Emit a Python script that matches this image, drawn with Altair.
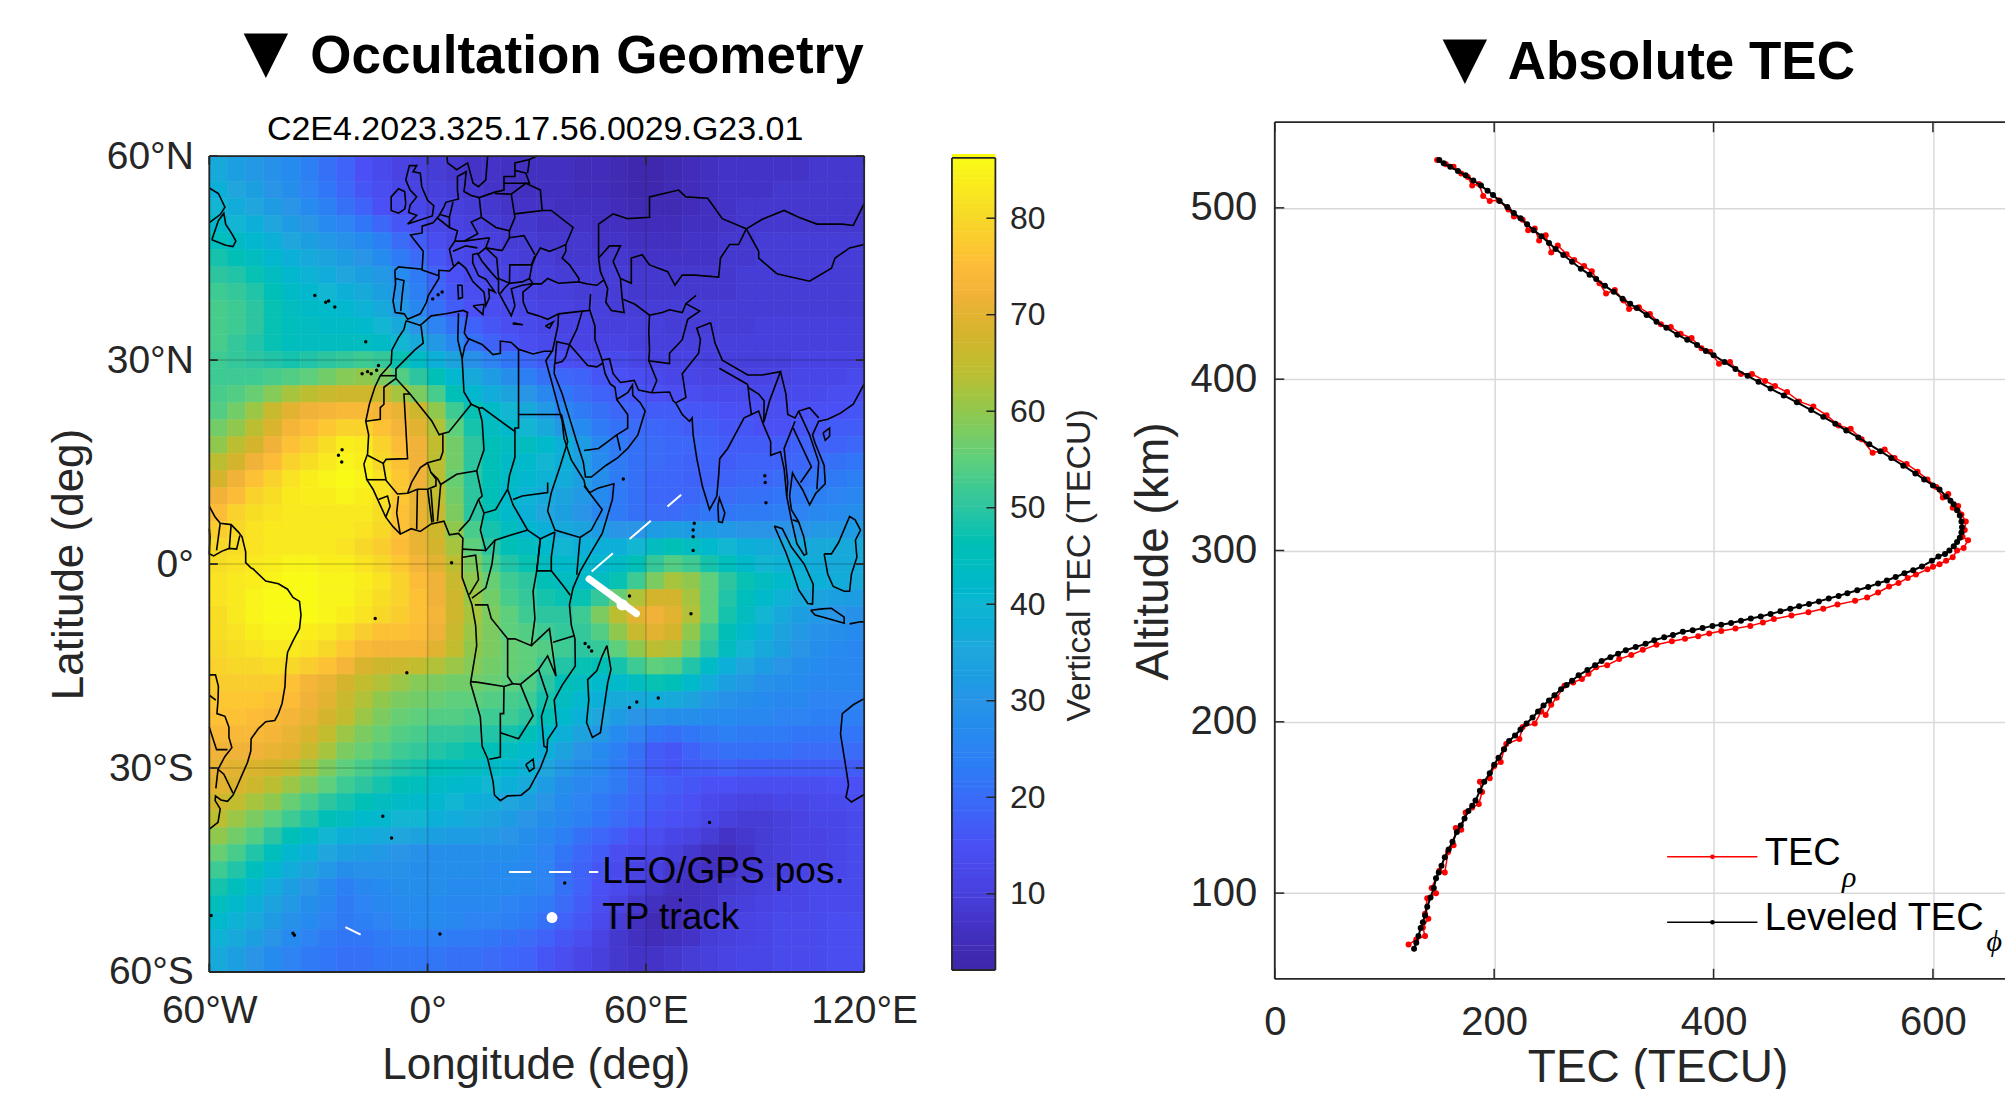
import altair as alt
import pandas as pd

INK = "#262626"
FONT = "Liberation Sans"

# ---------- vertical TEC map, values read per 5 deg lon x 2.5 deg lat ----------
cell_lons = [-60 + 5 * i for i in range(36)]
lat_edges = [60] + [56.25 - 2.5 * i for i in range(46)] + [-60]
VTEC = [
 [36,33,31,29,27,24,21,18,15,13,11,10,9,8,7,7,6,6,6,6,5,5,4,3,3,4,5,6,7,7,7,7,7,8,8,8],
 [38,35,33,30,28,25,22,19,16,14,12,11,10,9,8,7,6,6,6,6,5,5,4,3,3,4,5,6,7,7,7,8,8,8,8,8],
 [40,37,35,32,30,27,24,21,18,15,13,12,11,10,9,8,7,7,7,6,6,6,5,4,4,4,5,6,7,8,8,8,8,8,8,8],
 [42,40,38,35,32,30,27,25,22,19,16,14,12,11,10,9,8,8,7,7,7,6,6,5,5,5,6,6,7,8,8,8,8,8,8,8],
 [45,43,41,38,35,33,31,29,27,24,20,17,14,12,11,10,9,9,8,8,8,7,7,6,6,6,7,7,8,8,9,9,9,9,9,9],
 [48,46,44,41,38,36,34,32,30,27,23,20,16,13,12,11,10,9,9,8,8,8,8,7,7,7,7,7,8,8,9,9,9,9,9,9],
 [50,49,47,44,41,39,37,35,33,31,27,23,18,15,13,12,11,10,10,9,9,9,9,8,8,8,8,8,8,9,9,9,9,9,9,9],
 [52,51,49,46,43,41,40,38,36,33,29,24,19,16,14,13,12,11,10,10,9,9,9,8,8,8,8,8,8,9,9,9,9,9,9,9],
 [53,52,50,47,44,43,42,41,39,36,31,26,21,17,15,14,13,12,11,11,10,10,9,9,9,9,9,9,9,9,9,9,9,9,9,9],
 [53,52,50,47,45,44,43,43,42,40,36,30,25,21,18,16,14,13,12,11,11,10,10,10,10,9,9,9,9,9,10,10,10,10,10,10],
 [53,51,49,47,45,44,44,44,44,43,40,36,31,26,21,18,16,14,13,12,11,11,11,10,10,10,10,10,10,10,10,10,10,10,10,10],
 [52,51,50,49,48,49,50,51,52,51,47,43,38,34,29,25,22,19,17,15,14,13,13,12,11,11,11,10,10,10,10,10,11,11,11,11],
 [52,52,52,53,54,55,57,59,60,58,54,50,46,41,36,32,28,24,21,19,18,16,15,14,13,12,12,11,11,11,11,11,12,12,12,13],
 [53,54,56,59,62,64,66,67,67,66,62,58,53,46,41,37,34,30,26,22,20,18,17,16,15,14,14,13,13,13,13,13,13,13,14,14],
 [54,57,61,66,70,72,73,74,74,73,71,67,60,52,47,43,40,36,31,26,23,21,19,18,17,17,16,16,15,15,14,14,15,15,15,16],
 [57,60,64,69,73,75,77,79,79,76,73,70,63,55,48,44,42,40,36,31,27,23,21,20,19,18,17,17,16,16,15,15,16,16,17,17],
 [60,64,68,72,76,78,81,84,83,79,75,72,65,57,50,46,44,44,42,38,32,26,23,21,20,19,19,18,17,17,17,17,18,18,18,19],
 [64,68,72,75,79,81,83,85,84,80,76,72,64,57,50,46,43,42,40,38,33,27,23,21,20,19,18,18,17,18,18,18,19,20,21,22],
 [68,72,76,79,82,84,85,86,85,82,77,72,64,56,50,46,43,41,39,37,33,28,23,21,19,19,18,18,18,19,19,20,21,22,23,24],
 [72,75,79,81,83,84,84,85,84,82,77,71,65,57,50,46,42,39,36,34,31,27,23,21,19,19,19,20,20,21,21,22,23,24,25,26],
 [75,79,81,82,83,83,83,83,83,81,76,71,66,58,50,46,42,38,35,33,30,26,23,21,20,20,21,22,22,23,23,24,25,26,27,28],
 [78,80,82,83,83,83,83,83,82,80,76,71,67,60,53,48,44,41,38,36,34,32,30,30,32,33,32,32,31,30,30,30,30,31,31,32],
 [80,81,82,83,83,83,83,82,80,78,75,71,68,62,55,50,46,44,42,40,38,38,38,40,44,46,44,42,40,38,37,36,36,36,36,36],
 [81,82,83,84,85,85,84,84,82,80,77,73,70,64,58,53,49,47,44,42,41,41,43,46,51,54,52,48,45,42,40,39,38,37,36,36],
 [82,83,84,85,86,86,85,85,84,82,79,75,72,66,60,56,52,50,46,44,43,44,47,52,58,62,60,55,50,47,44,42,39,38,37,36],
 [82,83,85,86,86,86,85,85,83,81,79,76,72,67,61,57,53,51,48,47,47,51,56,63,68,68,62,55,49,45,42,39,36,34,33,32],
 [81,83,85,86,86,86,85,84,82,80,78,76,73,67,62,58,55,52,50,50,52,58,64,70,72,70,63,55,48,44,40,36,33,31,30,29],
 [81,82,84,85,85,84,83,81,78,76,76,75,72,66,61,58,55,54,52,51,51,54,60,66,70,68,60,52,46,42,38,34,31,29,28,27],
 [80,81,82,83,83,82,80,77,74,73,73,73,70,65,60,58,56,55,54,52,50,51,55,60,64,63,57,50,44,40,36,33,30,28,27,26],
 [79,80,80,81,80,78,76,73,69,67,66,65,63,61,59,57,56,55,52,49,47,46,48,52,55,54,49,43,38,35,32,30,28,27,26,26],
 [78,78,78,78,76,73,71,68,65,63,61,59,58,57,57,56,55,54,50,46,44,42,42,44,47,46,42,37,33,31,29,28,27,26,26,26],
 [77,77,77,76,75,72,70,66,63,60,58,57,56,55,55,54,53,52,48,44,41,38,36,36,37,36,34,31,29,28,27,26,26,25,25,25],
 [76,76,75,74,73,71,68,65,61,58,56,55,54,54,53,52,52,50,46,42,38,35,32,30,29,28,28,27,27,26,26,25,25,24,24,24],
 [74,74,74,73,71,69,65,61,58,56,54,53,51,51,50,49,48,46,42,38,34,31,27,25,22,21,22,23,24,23,23,23,22,22,22,22],
 [72,72,72,71,70,66,62,58,56,54,52,51,49,48,47,46,44,42,38,34,30,27,24,21,17,16,18,20,21,21,21,21,20,20,20,20],
 [71,70,69,68,66,62,58,55,53,51,49,48,46,45,44,43,41,39,35,31,28,26,23,20,17,16,17,17,18,17,17,17,17,17,17,17],
 [70,69,67,64,61,58,55,52,50,48,46,45,43,42,41,40,38,36,32,28,26,25,23,20,18,17,16,15,15,14,14,14,14,14,15,15],
 [67,65,62,60,56,53,50,48,46,44,43,42,41,40,38,37,35,33,30,27,25,23,21,19,17,16,15,13,12,11,11,12,12,13,13,14],
 [64,61,58,55,52,49,46,44,42,41,40,40,38,37,36,34,32,30,28,26,24,22,20,18,16,15,14,12,10,9,9,10,11,12,12,13],
 [60,57,54,50,46,43,40,38,37,36,35,34,33,32,32,31,30,28,26,24,21,19,17,15,14,12,11,9,7,8,9,10,11,11,12,13],
 [56,53,49,45,41,38,35,33,32,31,30,29,28,28,28,28,28,27,25,22,19,17,14,13,12,10,8,6,5,7,9,10,11,11,12,13],
 [52,49,45,41,37,34,31,28,29,29,29,28,28,28,28,27,27,26,25,21,18,16,13,11,10,8,7,6,6,8,9,10,11,12,12,13],
 [48,45,41,37,33,30,27,24,26,27,28,28,28,27,27,27,27,26,25,21,18,15,13,10,8,6,6,7,8,9,10,11,12,13,13,13],
 [45,42,38,34,31,28,26,23,25,26,27,27,27,26,26,26,25,24,23,20,17,14,11,8,6,5,6,7,9,10,11,12,12,13,13,13],
 [42,39,36,32,29,27,25,23,24,25,26,27,27,26,25,25,24,23,21,18,16,13,9,6,4,5,6,8,10,11,12,13,13,13,14,14],
 [39,36,33,30,27,25,23,22,22,23,24,24,24,23,23,22,21,20,18,16,14,11,8,6,5,6,7,9,10,11,12,13,13,13,14,14],
 [36,33,30,27,25,23,22,21,21,22,22,22,22,21,21,20,19,18,16,14,12,10,8,7,7,8,9,10,11,12,12,13,13,13,14,14],
]
assert len(VTEC) == len(lat_edges) - 1
for _r in VTEC:
    assert len(_r) == 36, _r
cb_stops = [2.1,6,10,15,20,25,30,35,40,44,50,55,60,64,68,72,75,80,86.25]
cb_colors = ["#3e26a8","#4230c0","#4740dd","#4a50f5","#3a6cf8","#2d84f2","#2a94e6","#20a6dc","#12b5d2",
             "#02bcc0","#2cc5a0","#5ecf7c","#90c84e","#bcbe32","#d4b42c","#f0b238","#fdbc38","#f7d828","#f9fb15"]

# ---------- coastlines and borders (lon, lat) ----------
coast_south_america = [(-60,8.5),(-58.5,7),(-57,6),(-54,5.8),(-52,4.7),(-51,4),(-50,1.8),(-50,0.2),(-48.5,-0.6),(-48,-0.7),(-44.5,-2.5),(-41,-2.9),(-38.5,-3.7),(-37,-4.9),(-35.2,-5.5),(-34.8,-7.5),(-35.2,-9.5),(-37,-11.3),(-38.5,-13),(-39,-15.5),(-39.2,-18),(-40,-20.5),(-41,-22),(-42,-23),(-44.5,-23.2),(-46.5,-24.2),(-48.5,-25.7),(-48.6,-27.5),(-49.5,-29.2),(-51,-31),(-52.2,-32.5),(-53.5,-34),(-55,-34.9),(-56.8,-34.7),(-58.3,-34.1),(-58.4,-34.8),(-57,-36),(-57.6,-38),(-60,-39)]
coast_africa = [(-5.9,35.8),(-2,35.1),(1,36.5),(5,36.8),(9.8,37.3),(11,37),(10.1,34),(11,33.2),(15,32.3),(18,30.8),(20,31),(20,32.8),(23,32.6),(25,31.6),(29,30.9),(32,31.3),(34.2,31.3),(32.5,29.9),(34,27),(35.5,24),(37,21),(37.5,18.5),(39.5,15.3),(43,12.3),(43.3,11.5),(44.5,10.5),(47,11.2),(51.2,11.8),(50.8,9.5),(48,4.5),(45,1.8),(42,-1),(40,-3.5),(39,-6),(39.5,-9),(40.5,-11),(40.6,-15),(37,-17.8),(34.8,-20),(35.5,-23.8),(33,-25.8),(32.8,-27.5),(31,-30),(28,-33),(25.7,-34),(22,-34.1),(20,-34.8),(18.4,-34),(18,-32),(16.5,-28.6),(15,-26.8),(14.5,-22.5),(11.8,-17.5),(13.5,-12),(13.2,-9),(12.2,-6),(9.5,-2),(9.5,1),(9.7,3.8),(8.5,4.5),(6,4.3),(4.5,6.3),(1,5.9),(-2,4.8),(-4.5,5.2),(-7.5,4.4),(-9.5,5.5),(-11.5,6.9),(-13.3,9),(-15,11),(-16.7,12.4),(-17.5,14.7),(-16.5,16.2),(-16.2,19),(-17,21),(-16,23.5),(-14.5,26),(-13,27.7),(-10,29.5),(-9.8,31.5),(-8,33.3),(-6.5,34.5),(-5.9,35.8)]
coast_madagascar = [(49.3,-12),(50.4,-15.5),(49.5,-17.5),(47.5,-24.8),(45.3,-25.5),(43.7,-23.3),(44.3,-20),(44,-17),(46.5,-15.7),(48,-13.5),(49.3,-12)]
coast_eurasia_north = [(-9,43.2),(-8,43.7),(-2,43.4),(-1.5,43.4),(-1.2,46),(-4.7,48.4),(-1.5,48.7),(-1.5,49.7),(1.5,50.2),(3,51.1),(4.5,52.5),(5,53.2),(8.5,53.7),(8.2,55),(8.2,57),(10.6,57.7),(10.3,56),(10,54.8),(12,54.2),(14.2,53.9),(18.5,54.7),(21,55),(21,57),(24,57),(24,59),(28,59.5),(30,60)]
coast_mediterranean = [(-9,43.2),(-8.8,41.2),(-9.5,38.7),(-8.9,37),(-6.4,36.8),(-5.5,36),(-2,36.8),(-0.3,38.5),(0.2,39.5),(3.1,42),(3.1,43.2),(6,43.1),(8.5,44.4),(10.5,43.5),(12.5,41.5),(15.5,40),(16,38),(17,39.2),(16.8,40.4),(18.5,40),(16,41.9),(14,42.4),(12.4,44.3),(12.4,45.5),(13.7,45.7),(15,44.5),(17.5,42.9),(19.5,41.7),(19.5,40),(21,38.5),(23,36.5),(24,38),(23,40.5),(26,41),(28.5,41.2),(29,41.2),(28,42),(28.7,44),(29.7,45.3),(31,46.5),(33.5,46),(36,46.5),(38,47),(38,46),(37,45),(39,44),(41.6,42),(41.5,41.5),(36,41.3),(33,42),(31.3,41.2),(29,41.2),(26.2,40),(26.3,38.5),(27.5,37),(30.5,36.5),(33,36),(36,36.8),(35.8,35),(35,33),(34.3,31.3)]
coast_britain = [(-5.5,50),(1.3,51.2),(1.7,52.7),(0,53.5),(-1.6,55.5),(-2,57.5),(-4,57.7),(-3,58.6),(-5,58.6),(-6,56.5),(-4.8,55),(-3,54),(-4.8,52.8),(-5.2,51.7),(-3,51.3),(-5.5,50)]
coast_ireland = [(-6,53),(-6.3,54.8),(-8,55.2),(-10,54),(-10,52),(-8,51.6),(-6.3,52.2),(-6,53)]
coast_sardinia = [(9.5,41),(9.6,39.2),(8.5,39),(8.3,41),(9.5,41)]
coast_sicily = [(12.5,38),(15.5,38.2),(15.2,36.7),(12.5,38)]
coast_crete = [(23.6,35.5),(26.2,35.2),(23.6,35.3),(23.6,35.5)]
coast_cyprus = [(32.4,35),(34.5,35.6),(33.5,34.7),(32.4,35)]
coast_scandinavia = [(5.3,60),(5.5,59),(8,58),(11,59),(12.5,56),(14,55.5),(16,56.5),(16.5,60)]
coast_newfoundland = [(-59.3,47.7),(-57.5,50.5),(-56,51.6),(-55.5,50),(-53.7,48.5),(-52.7,47.5),(-53.5,46.7),(-55.5,46.9),(-59.3,47.7)]
coast_labrador = [(-60,55.3),(-57.5,54.5),(-55.7,52.5),(-57,51.4),(-60,50.2)]
coast_caspian = [(47,45),(50,46.8),(53,46.8),(51,44.5),(53,42),(53.5,39),(54,37),(50.5,37.3),(49,38.5),(49.5,40.5),(47.5,43),(47,45)]
coast_south_asia = [(34.9,29.5),(34.8,28),(37,25),(39,21.5),(41,18),(42.8,15),(43.4,12.8),(45,12.8),(49,14.5),(52.2,15.6),(55,17),(57.8,19),(59.8,22.5),(58.5,23.7),(56.4,24.8),(56.3,26.3),(55,25.2),(52,24.2),(51.5,26),(50.2,26.5),(48.8,28),(48,30),(50,30.2),(51,28),(53,26.7),(56.8,27),(58,25.6),(61.6,25.2),(66.5,25.3),(67.5,24),(68.2,23.7),(70,22),(72,21),(72.7,21.5),(73,19),(74,15.5),(75.5,11.5),(77.5,8),(79.5,10),(80,13),(80.3,15.5),(82.5,17),(85,19.5),(87,21.5),(89,22),(91,22.5),(92.3,20.5),(94.3,18),(94.3,16),(97,16.5),(98,14),(98.7,10),(100,6.5),(101.5,3),(103.5,1.3),(104.2,1.5),(103.4,4),(102,6.2),(100,8),(99.5,10),(100.3,13.4),(101,12.7),(103,11),(105,8.7),(106.7,10.4),(109.3,11.8),(109,14.5),(106.5,17.8),(105.8,19),(107.5,21),(110,21.3),(113.5,22.2),(117,23.5),(120,26.5)]
coast_sri_lanka = [(79.8,8.5),(80.2,9.7),(81.7,7.5),(81,6.1),(80,6.2),(79.8,8.5)]
coast_hainan = [(108.7,19.3),(110.5,20),(110.5,18.8),(109.3,18.2),(108.7,19.3)]
coast_sumatra = [(95.3,5.6),(97.5,5.2),(100,2.5),(103.5,0),(106,-3),(105.8,-5.9),(104.5,-5.8),(102,-3.8),(100.3,-1),(98.5,1.7),(95.3,5.6)]
coast_java = [(105.3,-6.8),(108.5,-6.6),(111,-6.5),(114.5,-7.8),(114.5,-8.7),(110,-8),(106.5,-7.5),(105.3,-6.8)]
coast_borneo = [(109,1.5),(111,1.5),(113,3.2),(116,7),(117.5,6.5),(119,5),(117.6,3.5),(118,1),(116.5,-1.5),(116,-4),(114.5,-4),(111.5,-3.3),(110,-1.5),(109,1.5)]
coast_sundas = [(116,-8.8),(119,-8.5),(120,-8.5)]
coast_australia = [(120,-19.8),(117,-20.7),(114,-22),(113.5,-25),(115,-30),(115.7,-32.5),(115,-34.3),(116.5,-35),(120,-33.9)]

borders = [
 [(-60,5.2),(-59.8,4),(-60,1.5),(-58.8,1.2),(-56.5,1.9),(-54.5,2.3),(-52.5,2.2),(-51.6,4.2)],
 [(-57,6),(-58,2)],[(-54,5.8),(-54.5,2.3)],
 [(-60,-16.3),(-58.3,-16.3),(-57.5,-18),(-57.6,-20),(-57.9,-22),(-55.7,-22.4),(-54.6,-24),(-54.6,-25.5),(-53.8,-27),(-55.7,-28.3),(-57.6,-30.2),(-56,-30.9),(-53.5,-33.7)],
 [(-60,-24),(-58,-27.3),(-55,-27.3)],[(-60,-19.3),(-58.2,-20)],[(-58.2,-33),(-57.6,-30.2)],
 [(-1.8,35),(-1.2,32.5),(-3.5,31.5),(-8.7,28.7),(-8.7,27.3),(-4.8,25),(1.2,21),(3.2,19),(4.2,19.2),(5.8,19.4),(12,23.5),(14,23),(15,21),(15.5,16.8),(13.5,13.7),(8,13.2),(3.6,11.7),(2.8,12.5),(0.9,13.5),(0,14.9),(3.5,15.4),(4.2,16.5),(4.2,19.2)],
 [(-13,27.7),(-8.7,27.7)],[(-17,21),(-13,21.3),(-13,23),(-12,23.5),(-12,26),(-8.7,27.3)],
 [(-4.8,25),(-6.5,25),(-5.5,15.5),(-11.4,15.4),(-12.2,14.8),(-11.4,12.3),(-8.3,10.3),(-5.5,10.4),(-4.4,12),(-2,14.2),(0,14.9)],
 [(-16.5,16),(-12.2,14.8)],[(-16.7,12.4),(-11.4,12.4)],
 [(8.5,36.9),(8.3,33),(9.5,30.2),(10,25.3),(12,23.5)],[(11.5,33.2),(10.2,32),(9.5,30.2)],
 [(14,22.9),(15,23),(24,19.5),(24,20),(25,20),(25,22),(25,31.6)],[(25,22),(36.8,22)],
 [(24,19.5),(24,15.7),(22.5,13),(22,11),(18.7,8),(15.5,7.5),(14.5,5),(16,2),(18.5,3.5),(22.5,4.2),(27.5,5),(23.5,8.7),(22,11)],
 [(13.5,13.7),(15,10),(14,9.5),(11.5,6.5),(8.6,4.8)],[(14,9.5),(15.5,7.5)],
 [(2.7,6.3),(3.6,11.7)],[(1.6,6.2),(0.9,11)],[(1.2,6.1),(0,11)],[(-3,5.1),(-2.8,11)],
 [(-5.5,10.4),(-2.8,11),(0,11),(2.3,11.5),(2.3,12.5),(0.9,13.5)],
 [(-7.5,4.4),(-8.5,7.5),(-8,10)],[(-13.5,9.5),(-11,10),(-10.3,8.5),(-11.5,6.9)],
 [(9.7,2.2),(16,2)],[(9.7,1),(13.2,1.3),(14,-2.3),(11.5,-4.5)],[(12.2,-5),(16,-3.5),(17.7,0),(18.5,3.5)],
 [(23.5,9.5),(26,10),(33,10.5),(33,12)],
 [(36.8,22),(38.5,18),(36.5,14.5),(34,10.5),(33,7.8),(35,5),(41.9,3.9),(41,-1.6)],[(41.9,3.9),(45,5),(48,8),(43,11.5)],
 [(35,4.7),(34,1),(34,-1),(30,-1),(31,3.7),(35,4.7)],[(34,-1),(37.7,-3.5),(39.2,-4.6)],
 [(27.5,5),(31,3.7),(30,-1),(29,-4),(29.5,-8),(28.5,-12),(24,-11),(22,-11),(22,-13),(22,-16.5),(23.4,-17.6),(21,-18),(14,-17.4),(11.8,-17.3)],
 [(13,-6),(16.5,-6),(17.5,-8),(22,-11)],
 [(28.5,-12),(33.5,-9.5),(35.3,-16.5),(33,-13.5),(30.5,-15.5),(25.5,-17.7),(23.4,-17.6)],[(34.5,-11.5),(40.5,-10.5)],
 [(30.5,-15.5),(33,-19.5),(31.3,-22.4),(32,-26.8),(32.8,-27)],
 [(21,-18),(20.9,-22),(20,-22),(20,-28.4),(17,-28.7)],[(20,-24.8),(25,-25.7),(29,-22.3),(25.5,-17.7)],
 [(27,-29.5),(29,-28.7),(29.3,-30),(28,-30.5),(27,-29.5)],
 [(-8.8,42),(-6.5,41.7),(-7,39.5),(-7.4,37.2)],[(-1.7,43.3),(3.1,42.4)],
 [(2.5,51),(6,49.5),(8.2,49),(7.5,47.5),(6,46.3),(7,44),(7.5,43.8)],
 [(14.2,53.9),(14.8,51),(12,50.3),(13.8,48.6),(10,47.5),(7.5,47.5)],[(3.4,51.4),(6,51),(7,53.3)],[(6,51),(6,49.5)],
 [(7,46),(10.5,46.8),(13.7,46.5)],[(10,47.5),(17,48)],
 [(18.5,54.5),(23,54.4),(24,51),(22.5,49),(18.8,49.5),(14.8,51)],[(23,54.4),(27,56),(31,55),(31.5,52),(24,51.5)],
 [(22.5,49),(22.5,48),(26.5,48.3),(29.5,45.5)],[(31.5,52),(34,52),(40,49.5),(38,47)],
 [(20.5,46.1),(22.5,48)],[(29.5,45.3),(28.5,44),(22.6,44),(22.5,41.3),(26,41.5),(28,42)],[(17,48),(16,46.5),(20.5,46.1)],
 [(13.7,45.5),(16,46.5),(19,45),(19.5,42),(22.5,41.3),(21,40.5),(20,39.8)],[(21,56),(28,56),(27,57.5),(24,57.9)],[(27.5,57.5),(28,59.5)],
 [(47,45),(47,48),(47,50),(51,51.5),(55,50.8),(61,51),(61,54),(69,55),(71,54),(77,53.8),(81,50.8),(87.6,49.3),(92,50.7),(98,52),(102,51),(107,50),(114,50),(117,49.8),(120,53)],
 [(87.6,49.3),(91,46),(91,45),(96,42.7),(105,41.6),(111,43.5),(112,45),(116,46.5),(120,47)],
 [(53,42),(56,41.3),(56,45),(59,45.5),(61,44),(66,43),(68,41),(70,42.5),(73.5,42.5),(80,42.2),(80.5,45),(83,47),(85.5,47),(87.6,49.3)],
 [(53.5,39),(57,38.2),(61,36.6),(64.5,37),(66.5,37.4),(70,37),(71,38.3),(73.8,39.5)],
 [(61,36.6),(60.8,34.3),(61,31.5),(60.8,29.9),(66.5,29.5),(66.5,31),(70,33),(71.5,36),(74.8,37.2),(71,38.3)],
 [(60.8,29.9),(63,27),(61.6,25.2)],[(68.2,23.7),(71,24.5),(70,28),(74.5,31),(75,33),(74,34.7),(77.8,35.5)],
 [(77.8,35.5),(79,32.5),(81,30),(88,27.8),(92,27.8),(97,28.3),(94,24),(92.5,21)],[(80.2,28.8),(88,26.4)],
 [(44.8,39.7),(44.5,37.5),(46,35),(46,33),(48,30)],[(36,36.8),(42.5,37.2),(44.5,37.3)],[(42.5,37.2),(41,34.5),(39,32.3)],
 [(39,32.3),(37,32.5),(35.5,32.7),(35,29.5),(37,29.8),(38,30.5),(39,32.3)],[(39,32.3),(44,29.2),(46.5,29),(48,29.5)],
 [(43,16.7),(47,17),(52,19),(55,20),(55,22),(52,24.2)],[(52,19),(53,16.7)],[(41.5,41.5),(44,41.2),(46.5,41),(48.5,41.8)],
 [(97,28.3),(98.5,25),(99,22),(101,21.5),(102,22.5),(105,23),(107.5,21.5)],[(102,22.5),(105,19),(107.5,15),(107,11)],
 [(101,21),(98,17),(99,12),(98.7,10)],[(100.5,20),(105.5,14.3),(102.5,12)],[(88,26.4),(88.5,24),(89,22)],
 [(92.4,20.8),(92.5,24),(91,25),(88,26)],[(100.3,6.5),(102,6.2)],
]
polylines = [coast_south_america, coast_africa, coast_madagascar, coast_eurasia_north, coast_mediterranean,
             coast_britain, coast_ireland, coast_sardinia, coast_sicily, coast_crete, coast_cyprus,
             coast_scandinavia, coast_newfoundland, coast_labrador, coast_caspian, coast_south_asia,
             coast_sri_lanka, coast_hainan, coast_sumatra, coast_java, coast_borneo, coast_sundas,
             coast_australia] + borders
island_lons = [-28,-25.5,-31,-27.2,-17,-18,-16.5,-15.5,-14,-13.5,-24.5,-23.6,-23.5,6.6,-14.4,-5.7,-12.3,-9.9,-37,-36.6,-59.5,3.4,43.3,44.3,45.1,55.5,57.5,55.5,63.4,53.8,73,73,73.3,73,92.8,92.7,93,69.5,77.5,37.7,72.4,2.9,1.4,4]
island_lats = [38.5,37.8,39.5,38.7,32.7,28,28.3,28,28.5,29.2,16,15,16.8,0.2,-8,-16,-37.1,-40.3,-54.3,-54.6,-51.7,-54.4,-11.7,-12.2,-12.8,-4.7,-20.3,-21.1,-19.7,12.5,4,2,6,5,12,13,9,-49.4,-38,-46.9,-7.3,39.6,39,40]

# ---------- occultation geometry ----------
leo_gps_lons = [45.1, 69.7]
leo_gps_lats = [-1.1, 10.2]
leo_gps_tail_lons = [-22.6, -18.4]
leo_gps_tail_lats = [-53.4, -54.5]
tp_lons = [44.4, 57.4]
tp_lats = [-2.2, -7.3]
tp_mid = (53.5, -6.0)

# ---------- TEC profiles (TECU, km) ----------
level_tec = [150,154,160,167,174,181,188,194,199,205,212,218,224,230,236,243,250,256,263,271,279,287,293,301,309,317,324,330,339,348,357,367,376,385,393,400,410,420,431,441,452,464,476,489,500,511,521,532,542,552,562,573,584,592,600,606,612,616,619,622,624.5,626,626.5,626,624.5,622,619,615,611,605,599,590,582,574,566,558,550,541,531,522,514,505,496,487,478,470,461,452,443,434,425,416,407,399,390,381,372,363,355,346,338,329,320,313,306,298,292,285,277,271,266,261,255,250,245,240,235,229.5,224,219,213.6,209,204,200,196,191,187,183,180,176.5,173,169.5,166,162,158.5,155,152,149.5,147,145,142,139,137,135,133,131,129,127]
level_alt = [528,526,524,521.5,519,516,513,510,507.5,504,500.5,497,494,490.5,487,483.5,479.5,476,472.5,468.5,464.5,461,458.5,454.5,451,447,444,441.5,437.5,433.5,430,426,423,420,416.5,414,410,406,402,398.5,394.5,390.5,386.5,382,378,374,370,366,362,358,354,349.5,345,341.5,338,335.6,331.5,329,327,323.5,320.5,317,313.5,310.5,307.5,305,302.5,300,298,296.5,294,290.7,288.5,286.7,284.5,282.5,280.8,278.7,276.8,275,273.5,272,270.3,268.8,267.4,266,264.5,263,261.5,260.3,259,257.7,256.7,256,254.7,253.5,252.6,250.7,249.3,247.6,245.5,243.7,241.8,239.7,237.7,235.5,233,230.2,227.2,224,221.5,219,215.5,212.5,209.5,206,202.5,199,195.5,192,188.8,184,179,175,170,165,159.7,154,151,148,143.5,139.5,135.7,130,125.5,121,116,112,108.7,103,97.5,92,87,83,79.6,75,71,67.6]
rho_tec = [148,156,163,170,176,180,186,190,196,204,213,218,226,231,237,241,247,252,258,266,273,282,289,296,302,310,318,323,332,342,352,361,370,380,389,397,405,415,425,435,447,456,467,478,491,503,514,525,535,545,556,565,576,586,595,603,609,614,618,623,626,630,629,627,632,628,622,618,612,606,600,595,584.5,577,568.6,560,550,540,529,513,500,486.5,471,455,445,433.5,420,407,396,386,374,362,348,335.5,325,314,303,293,286,280,272,264,257,252,247,243,237,226,223,211,209,206,200,196,187,189,186,180,174,170,165,163,158,155,150,143,147,139,137,140,135,137,129,122]
rho_alt = [528,525.5,524,520,518,513,514,507,504,504.5,499,495,493,487,488,481,484,474,478,473,469.5,466,463,456,450,452,446,441,442,438,432,430.5,426.5,424,418,416,409,410,403,403,399,396,392.5,387,384,379,373,371,365,357,359,354,350.5,346,341.5,337,331,333,325,326,321,317,312,308,306,301.5,300,296,294,292,290.5,289,286,284,281,279,275.5,272.5,270.6,268.5,266,264,262,260,258,256,254.5,253,251.5,250,248.5,247,245,242,239,236.6,233,231.8,228,225,223,221,214,210,204,206,199,197,190,187,184,176.5,174,167,165,159,152,150,147,137,138,128,124,112,113,103,100,97,88,85,80,75,73,70]

# ---------- ticks and text ----------
lon_ticks = [-60, 0, 60, 120]
lat_ticks = [60, 30, 0, -30, -60]
cb_ticks = [10, 20, 30, 40, 50, 60, 70, 80]
tec_ticks = [0, 200, 400, 600, 800]
alt_ticks = [100, 200, 300, 400, 500]
title_marker = "▼"
title_left = "Occultation Geometry"
title_right = "Absolute TEC"
subtitle = "C2E4.2023.325.17.56.0029.G23.01"

# ---------- frame geometry (pixels) ----------
PANEL_H = 857
MAP_W, MAP_TOP, MAP_BOTTOM = 655.2, 33.9, 850.2
CB_W, CB_BAR, CB_TOP, CB_BOTTOM = 235.5, 43.5, 35.7, 848.2
RIGHT_W = 878
TEXT_ONE = pd.DataFrame({"k": [0]})

def text_at(px, py, txt, size, bold=False, align="left", color="black", font=FONT, baseline="alphabetic"):
    kw = dict(fontSize=size, font=font, align=align, baseline=baseline, color=color)
    if bold:
        kw["fontWeight"] = "bold"
    return alt.Chart(TEXT_ONE).mark_text(**kw).encode(x=alt.value(px), y=alt.value(py), text=alt.value(txt))

# ================= map panel =================
lon_scale = alt.Scale(domain=[-60, 120], range=[0, MAP_W], nice=False, zero=False)
lat_scale = alt.Scale(domain=[-60, 60], range=[MAP_BOTTOM, MAP_TOP], nice=False, zero=False)
color_scale = alt.Scale(domain=cb_stops, range=cb_colors, clamp=True)

def LON(f="lon"):
    return alt.X(f"{f}:Q", scale=lon_scale)
def LAT(f="lat"):
    return alt.Y(f"{f}:Q", scale=lat_scale)

cells = pd.DataFrame([
    {"lon0": cell_lons[j], "lon1": cell_lons[j] + 5, "lat0": lat_edges[i], "lat1": lat_edges[i + 1], "v": VTEC[i][j]}
    for i in range(len(VTEC)) for j in range(len(cell_lons))
])
map_cells = alt.Chart(cells).mark_rect(strokeWidth=0.6).encode(
    x=alt.X("lon0:Q", scale=lon_scale, axis=alt.Axis(
        values=lon_ticks, title="Longitude (deg)", grid=False, domain=False, ticks=False, offset=-6.8,
        labelExpr="abs(datum.value)+'°'+(datum.value<0?'W':datum.value>0?'E':'')",
        labelFontSize=39, labelPadding=20, labelColor=INK, labelFont=FONT, labelFlush=False,
        titleFontSize=44, titleFontWeight="normal", titleColor=INK, titleFont=FONT,
        titleX=326.6, titleY=107, titleAlign="center", titleBaseline="alphabetic")),
    x2="lon1:Q",
    y=alt.Y("lat0:Q", scale=lat_scale, axis=alt.Axis(
        values=lat_ticks, title="Latitude (deg)", grid=False, domain=False, ticks=False,
        labelExpr="abs(datum.value)+'°'+(datum.value>0?'N':datum.value<0?'S':'')",
        labelFontSize=39, labelPadding=16, labelColor=INK, labelFont=FONT, labelFlush=False,
        titleFontSize=44, titleFontWeight="normal", titleColor=INK, titleFont=FONT,
        titleX=-139.4, titleY=442, titleAngle=270, titleAlign="center", titleBaseline="middle")),
    y2="lat1:Q",
    color=alt.Color("v:Q", scale=color_scale, legend=None),
    stroke=alt.Stroke("v:Q", scale=color_scale, legend=None),
)
map_grid_x = alt.Chart(pd.DataFrame({"lon": [0, 60], "a": [-60, -60], "b": [60, 60]})).mark_rule(
    color="black", opacity=0.18, strokeWidth=1.5).encode(x=LON(), y=LAT("a"), y2="b:Q")
map_grid_y = alt.Chart(pd.DataFrame({"lat": [30, 0, -30], "a": [-60, -60, -60], "b": [120, 120, 120]})).mark_rule(
    color="black", opacity=0.18, strokeWidth=1.5).encode(y=LAT(), x=LON("a"), x2="b:Q")

line_rows = [{"id": i, "n": n, "lon": p[0], "lat": p[1]} for i, pl in enumerate(polylines) for n, p in enumerate(pl)]
map_lines = alt.Chart(pd.DataFrame(line_rows)).mark_line(color="black", strokeWidth=1.6).encode(
    x=LON(), y=LAT(), detail="id:N", order="n:Q")
map_islands = alt.Chart(pd.DataFrame({"lon": island_lons, "lat": island_lats})).mark_point(
    filled=True, color="black", size=12, opacity=1).encode(x=LON(), y=LAT())

leo = alt.Chart(pd.DataFrame({"lon": leo_gps_lons, "lat": leo_gps_lats})).mark_line(
    color="white", strokeWidth=2, strokeDash=[28, 22]).encode(x=LON(), y=LAT())
leo_tail = alt.Chart(pd.DataFrame({"lon": leo_gps_tail_lons, "lat": leo_gps_tail_lats})).mark_line(
    color="white", strokeWidth=2).encode(x=LON(), y=LAT())
tp = alt.Chart(pd.DataFrame({"lon": tp_lons, "lat": tp_lats})).mark_line(
    color="white", strokeWidth=7, strokeCap="round").encode(x=LON(), y=LAT())
tp_dot = alt.Chart(pd.DataFrame({"lon": [tp_mid[0]], "lat": [tp_mid[1]]})).mark_point(
    filled=True, color="white", size=130, opacity=1).encode(x=LON(), y=LAT())

legend_dash = alt.Chart(pd.DataFrame({"lon": [22.4, 46.9], "lat": [-45.3, -45.3]})).mark_line(
    color="white", strokeWidth=2, strokeDash=[22, 18]).encode(x=LON(), y=LAT())
legend_dot = alt.Chart(pd.DataFrame({"lon": [34.2], "lat": [-52]})).mark_point(
    filled=True, color="white", size=120, opacity=1).encode(x=LON(), y=LAT())
legend_text = alt.Chart(pd.DataFrame({"lon": [48, 48], "lat": [-45.3, -52], "t": ["LEO/GPS pos.", "TP track"]})).mark_text(
    fontSize=37, font=FONT, color="black", align="left", baseline="middle").encode(x=LON(), y=LAT(), text="t:N")

border_v = alt.Chart(pd.DataFrame({"lon": [-60, 120], "a": [-60, -60], "b": [60, 60]})).mark_rule(
    color=INK, strokeWidth=1.8).encode(x=LON(), y=LAT("a"), y2="b:Q")
border_h = alt.Chart(pd.DataFrame({"lat": [-60, 60], "a": [-60, -60], "b": [120, 120]})).mark_rule(
    color=INK, strokeWidth=1.8).encode(y=LAT(), x=LON("a"), x2="b:Q")
tick_df_x = pd.DataFrame({"lon": lon_ticks})
tick_df_y = pd.DataFrame({"lat": lat_ticks})
map_ticks = [
    alt.Chart(tick_df_x).mark_rule(color=INK, strokeWidth=1.8).encode(x=LON(), y=alt.value(MAP_TOP), y2=alt.value(MAP_TOP + 8.5)),
    alt.Chart(tick_df_x).mark_rule(color=INK, strokeWidth=1.8).encode(x=LON(), y=alt.value(MAP_BOTTOM - 8.5), y2=alt.value(MAP_BOTTOM)),
    alt.Chart(tick_df_y).mark_rule(color=INK, strokeWidth=1.8).encode(y=LAT(), x=alt.value(0), x2=alt.value(8.5)),
    alt.Chart(tick_df_y).mark_rule(color=INK, strokeWidth=1.8).encode(y=LAT(), x=alt.value(MAP_W - 8.5), x2=alt.value(MAP_W)),
]

map_panel = alt.layer(
    map_cells, map_grid_x, map_grid_y, map_lines, map_islands, leo, leo_tail, tp, tp_dot,
    legend_dash, legend_dot, legend_text, border_v, border_h, *map_ticks,
    text_at(19, -44.8, title_marker, 76, bold=True),
    text_at(101, -48.8, title_left, 53, bold=True),
    text_at(326, 17.5, subtitle, 34, align="center"),
).properties(width=MAP_W, height=PANEL_H)

# ================= colour bar =================
cb_lo = [2.1 + 0.5 * i for i in range(169)]
cb_df = pd.DataFrame({"lo": cb_lo, "hi": [v + 0.55 for v in cb_lo], "mid": [v + 0.25 for v in cb_lo]})
cb_scale = alt.Scale(domain=[2.1, 86.25], range=[CB_BOTTOM, CB_TOP], nice=False, zero=False)
cb_rects = alt.Chart(cb_df).mark_rect().encode(
    x=alt.value(0), x2=alt.value(CB_BAR),
    y=alt.Y("lo:Q", scale=cb_scale, axis=alt.Axis(
        orient="right", offset=-(CB_W - CB_BAR), values=cb_ticks, title="Vertical TEC (TECU)", grid=False, domain=False, ticks=False,
        labelFontSize=32, labelPadding=14, labelColor=INK, labelFont=FONT,
        titleFontSize=34, titleFontWeight="normal", titleColor=INK, titleFont=FONT,
        titleX=84, titleY=443, titleAngle=270, titleAlign="center", titleBaseline="middle")),
    y2="hi:Q",
    color=alt.Color("mid:Q", scale=color_scale, legend=None),
)
cb_tick_rules = alt.Chart(pd.DataFrame({"v": cb_ticks})).mark_rule(color=INK, strokeWidth=1.5).encode(
    y=alt.Y("v:Q", scale=cb_scale), x=alt.value(CB_BAR - 9), x2=alt.value(CB_BAR))
cb_frame_v = alt.Chart(pd.DataFrame({"x": [0, CB_BAR]})).mark_rule(color=INK, strokeWidth=1.8).encode(
    x=alt.X("x:Q", scale=alt.Scale(domain=[0, CB_W], range=[0, CB_W]), axis=None), y=alt.value(CB_TOP), y2=alt.value(CB_BOTTOM))
cb_frame_h = alt.Chart(pd.DataFrame({"v": [2.1, 86.25]})).mark_rule(color=INK, strokeWidth=1.8).encode(
    y=alt.Y("v:Q", scale=cb_scale), x=alt.value(0), x2=alt.value(CB_BAR))
cb_panel = alt.layer(cb_rects, cb_tick_rules, cb_frame_v, cb_frame_h).properties(width=CB_W, height=PANEL_H)

# ================= TEC profile =================
tec_scale = alt.Scale(domain=[0, 800], range=[0, RIGHT_W], nice=False, zero=False)
alt_scale = alt.Scale(domain=[50, 550], nice=False, zero=False)
def TEC(f="tec"):
    return alt.X(f"{f}:Q", scale=tec_scale)
def ALT(f="alt"):
    return alt.Y(f"{f}:Q", scale=alt_scale)

level_df = pd.DataFrame({"tec": level_tec, "alt": level_alt, "n": range(len(level_tec))})
rho_df = pd.DataFrame({"tec": rho_tec, "alt": rho_alt, "n": range(len(rho_tec))})

axes_layer = alt.Chart(pd.DataFrame({"tec": [0], "alt": [50]})).mark_point(opacity=0).encode(
    x=alt.X("tec:Q", scale=tec_scale, axis=alt.Axis(
        values=tec_ticks, title="TEC (TECU)", grid=True, gridColor="#d9d9d9", gridWidth=1.5, domain=False, ticks=False,
        labelFontSize=40, labelPadding=24, labelColor=INK, labelFont=FONT, labelFlush=False,
        titleFontSize=46, titleFontWeight="normal", titleColor=INK, titleFont=FONT,
        titleX=383, titleY=103, titleAlign="center", titleBaseline="alphabetic")),
    y=alt.Y("alt:Q", scale=alt_scale, axis=alt.Axis(
        values=alt_ticks, title="Altitude (km)", grid=True, gridColor="#d9d9d9", gridWidth=1.5, domain=False, ticks=False,
        labelFontSize=40, labelPadding=18, labelColor=INK, labelFont=FONT,
        titleFontSize=46, titleFontWeight="normal", titleColor=INK, titleFont=FONT,
        titleX=-121.4, titleY=429, titleAngle=270, titleAlign="center", titleBaseline="middle")),
)
rho_line = alt.Chart(rho_df).mark_line(color="#ff0000", strokeWidth=1.5).encode(x=TEC(), y=ALT(), order="n:Q")
rho_pts = alt.Chart(rho_df).mark_point(filled=True, color="#ff0000", size=36, opacity=1).encode(x=TEC(), y=ALT())
lvl_line = alt.Chart(level_df).mark_line(color="black", strokeWidth=2).encode(x=TEC(), y=ALT(), order="n:Q")
lvl_pts = alt.Chart(level_df).mark_point(filled=True, color="black", size=36, opacity=1).encode(x=TEC(), y=ALT())

frame_h = alt.Chart(pd.DataFrame({"alt": [50, 550], "a": [0, 0], "b": [800, 800]})).mark_rule(
    color=INK, strokeWidth=1.8).encode(y=ALT(), x=TEC("a"), x2="b:Q")
frame_v = alt.Chart(pd.DataFrame({"tec": [0, 800], "a": [50, 50], "b": [550, 550]})).mark_rule(
    color=INK, strokeWidth=1.8).encode(x=TEC(), y=ALT("a"), y2="b:Q")
prof_ticks = [
    alt.Chart(pd.DataFrame({"tec": tec_ticks})).mark_rule(color=INK, strokeWidth=1.5).encode(x=TEC(), y=alt.value(0), y2=alt.value(10)),
    alt.Chart(pd.DataFrame({"tec": tec_ticks})).mark_rule(color=INK, strokeWidth=1.5).encode(x=TEC(), y=alt.value(PANEL_H - 10), y2=alt.value(PANEL_H)),
    alt.Chart(pd.DataFrame({"alt": alt_ticks})).mark_rule(color=INK, strokeWidth=1.5).encode(y=ALT(), x=alt.value(0), x2=alt.value(9.5)),
]

leg_rho_line = alt.Chart(pd.DataFrame({"tec": [357.7, 440], "alt": [121.2, 121.2]})).mark_line(color="#ff0000", strokeWidth=1.5).encode(x=TEC(), y=ALT())
leg_rho_pt = alt.Chart(pd.DataFrame({"tec": [399], "alt": [121.2]})).mark_point(filled=True, color="#ff0000", size=22, opacity=1).encode(x=TEC(), y=ALT())
leg_lvl_line = alt.Chart(pd.DataFrame({"tec": [357.7, 440], "alt": [83, 83]})).mark_line(color="black", strokeWidth=1.5).encode(x=TEC(), y=ALT())
leg_lvl_pt = alt.Chart(pd.DataFrame({"tec": [399], "alt": [83]})).mark_point(filled=True, color="black", size=22, opacity=1).encode(x=TEC(), y=ALT())
leg_text = alt.Chart(pd.DataFrame({"tec": [446.7, 446.7], "alt": [123, 85], "t": ["TEC", "Leveled TEC"]})).mark_text(
    fontSize=38, font=FONT, color="black", align="left", baseline="middle").encode(x=TEC(), y=ALT(), text="t:N")
leg_sub = alt.Chart(pd.DataFrame({"tec": [523.6, 656], "alt": [108.7, 71.5], "t": ["ρ", "ϕ"]})).mark_text(
    fontSize=30, font="Liberation Serif", fontStyle="italic", color="black", align="center", baseline="middle").encode(x=TEC(), y=ALT(), text="t:N")

right_panel = alt.layer(
    axes_layer, rho_line, rho_pts, lvl_line, lvl_pts, frame_h, frame_v, *prof_ticks,
    leg_rho_line, leg_rho_pt, leg_lvl_line, leg_lvl_pt, leg_text, leg_sub,
    text_at(152.5, -38.8, title_marker, 76, bold=True),
    text_at(233, -43, title_right, 53, bold=True),
).properties(width=RIGHT_W, height=PANEL_H)

chart = alt.hconcat(map_panel, cb_panel, right_panel, spacing=87, bounds="flush").resolve_scale(
    color="independent", stroke="independent"
).properties(
    padding={"left": 39.4, "top": 8, "right": -181.4, "bottom": -2}, background="white"
).configure_view(stroke=None)

chart.save("out.html", embed_options={"renderer": "svg", "actions": False})
